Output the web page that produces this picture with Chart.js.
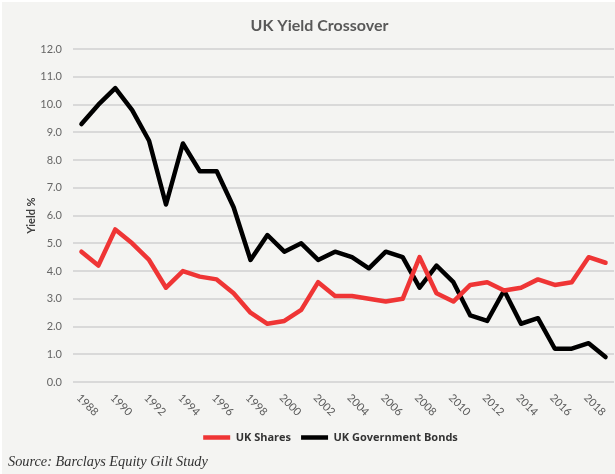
<!DOCTYPE html>
<html>
<head>
<meta charset="utf-8">
<script src="https://cdn.jsdelivr.net/npm/chart.js@4/dist/chart.umd.min.js"></script>
<style>
  html, body { margin: 0; padding: 0; background: #ffffff; }
  #wrap { position: relative; width: 615px; height: 474px; overflow: hidden; }
  #bg { position: absolute; left: 2px; top: 2px; right: 0; bottom: 0; background: #f4f4f2; }
  #c { position: absolute; left: 0; top: 0; }
  #src { position: absolute; left: 8px; top: 453px; font: italic 14.3px "Liberation Serif", "DejaVu Serif", serif; color: #333333; white-space: nowrap; }
</style>
</head>
<body>
<div id="wrap">
  <div id="bg"></div>
  <canvas id="c" width="615" height="474"></canvas>
  <div id="src">Source: Barclays Equity Gilt Study</div>
</div>
<script>
const years = ['1988','1989','1990','1991','1992','1993','1994','1995','1996','1997','1998','1999','2000','2001','2002','2003','2004','2005','2006','2007','2008','2009','2010','2011','2012','2013','2014','2015','2016','2017','2018','2019'];
const ukShares = [4.7,4.2,5.5,5.0,4.4,3.4,4.0,3.8,3.7,3.2,2.5,2.1,2.2,2.6,3.6,3.1,3.1,3.0,2.9,3.0,4.5,3.2,2.9,3.5,3.6,3.3,3.4,3.7,3.5,3.6,4.5,4.3];
const ukGilts = [9.3,10.0,10.6,9.8,8.7,6.4,8.6,7.6,7.6,6.3,4.4,5.3,4.7,5.0,4.4,4.7,4.5,4.1,4.7,4.5,3.4,4.2,3.6,2.4,2.2,3.3,2.1,2.3,1.2,1.2,1.4,0.9];
const seriesNames = ['UK Shares','UK Government Bonds'];
const chartTitle = 'UK Yield Crossover';
const yAxisTitle = 'Yield %';

const xLabelsPlugin = {
  id: 'rotatedXLabels',
  afterLayout(chart) {
    if (chart.legend) { chart.legend.left += 11; chart.legend.right += 11; }
  },
  afterDraw(chart) {
    const ctx = chart.ctx;
    const xs = chart.scales.x;
    const bottom = chart.chartArea.bottom;
    ctx.save();
    ctx.font = '11px Lato';
    ctx.fillStyle = '#595959';
    ctx.textAlign = 'left';
    ctx.textBaseline = 'middle';
    years.forEach((y, i) => {
      if (i % 2 !== 0) return;
      const x = xs.getPixelForValue(i);
      ctx.save();
      ctx.translate(x - 3, bottom + 14);
      ctx.rotate(Math.PI / 4);
      ctx.fillText(y, 0, 0);
      ctx.restore();
    });
    ctx.restore();
  }
};

new Chart(document.getElementById('c'), {
  type: 'line',
  data: {
    labels: years,
    datasets: [
      { label: seriesNames[0], data: ukShares, borderColor: '#ef3535', backgroundColor: '#ef3535', borderWidth: 4.5, pointRadius: 0, tension: 0, borderJoinStyle: 'round', borderCapStyle: 'round' },
      { label: seriesNames[1], data: ukGilts, borderColor: '#000000', backgroundColor: '#000000', borderWidth: 4.5, pointRadius: 0, tension: 0, borderJoinStyle: 'round', borderCapStyle: 'round' }
    ]
  },
  options: {
    responsive: false,
    animation: false,
    events: [],
    layout: { padding: { left: 25, right: 1, top: 0, bottom: 21 } },
    plugins: {
      title: {
        display: true, text: chartTitle, color: '#595959',
        font: { family: 'Lato', size: 16, weight: 'bold' },
        padding: { top: 16, bottom: 14 }
      },
      legend: {
        display: true, position: 'bottom',
        labels: {
          usePointStyle: true, pointStyle: 'line', pointStyleWidth: 27,
          color: '#333333', padding: 10,
          font: { family: 'Open Sans', size: 11, weight: 'bold' }
        }
      },
      tooltip: { enabled: false }
    },
    scales: {
      x: {
        offset: true,
        grid: { display: false, drawTicks: false },
        border: { display: false },
        ticks: { display: false },
        afterFit(s) { s.height = 40; }
      },
      y: {
        min: 0, max: 12,
        grid: { color: '#d9d9d9', lineWidth: 2, drawTicks: false },
        border: { display: false },
        ticks: {
          stepSize: 1, padding: 11, color: '#666666',
          font: { family: 'Lato', size: 11 },
          callback: v => v.toFixed(1)
        },
        title: {
          display: true, text: yAxisTitle, color: '#404040',
          font: { family: 'Lato', size: 11, weight: 'bold' },
          padding: { top: 0, bottom: 0 }
        },
        afterFit(s) { s.width = 48; }
      }
    }
  },
  plugins: [xLabelsPlugin]
});
</script>
</body>
</html>
